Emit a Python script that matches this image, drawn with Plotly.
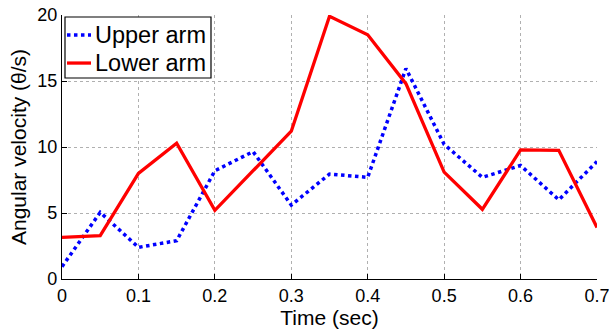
import plotly.graph_objects as go

time = [0, 0.05, 0.1, 0.15, 0.2, 0.25, 0.3, 0.35, 0.4, 0.45, 0.5, 0.55, 0.6, 0.65, 0.7]
upper_arm = [0.93, 5.05, 2.4, 2.9, 8.2, 9.65, 5.6, 7.95, 7.7, 15.95, 10.2, 7.7, 8.6, 6.0, 8.9]
lower_arm = [3.15, 3.28, 8.0, 10.28, 5.2, 8.2, 11.2, 19.9, 18.5, 14.8, 8.1, 5.28, 9.78, 9.75, 3.9]

x_ticks = [0, 0.1, 0.2, 0.3, 0.4, 0.5, 0.6, 0.7]
x_ticktext = ["0", "0.1", "0.2", "0.3", "0.4", "0.5", "0.6", "0.7"]
y_ticks = [0, 5, 10, 15, 20]
series_names = ["Upper arm", "Lower arm"]
series_colors = ["#0000ff", "#ff0000"]
series_dash = ["dot", "solid"]

font = "Liberation Sans, Arial, sans-serif"

fig = go.Figure()
fig.add_trace(go.Scatter(x=time, y=upper_arm, mode="lines", name=series_names[0],
                         line=dict(color=series_colors[0], width=3.5, dash=series_dash[0])))
fig.add_trace(go.Scatter(x=time, y=lower_arm, mode="lines", name=series_names[1],
                         line=dict(color=series_colors[1], width=3.3, dash=series_dash[1])))

# Legend drawn as a compact box (MATLAB style)
fig.add_shape(type="rect", xref="paper", yref="paper",
              x0=0.0056, x1=0.2785, y0=0.7614, y1=0.9924,
              line=dict(color="black", width=1.2), fillcolor="white", layer="above")
legend_rows_y = [0.9242, 0.818]
for name, color, dash, yy, w in zip(series_names, series_colors, series_dash, legend_rows_y, [3.5, 3.3]):
    fig.add_shape(type="line", xref="paper", yref="paper",
                  x0=0.0093, x1=0.0542, y0=yy, y1=yy,
                  line=dict(color=color, width=w, dash=dash), layer="above")
    fig.add_annotation(text=name, xref="paper", yref="paper", x=0.0575, y=yy,
                       xanchor="left", yanchor="middle", showarrow=False,
                       font=dict(size=23.5, family=font, color="black"))

fig.update_layout(
    width=609, height=335,
    margin=dict(l=62, r=12, t=15, b=56),
    paper_bgcolor="white", plot_bgcolor="white",
    font=dict(family=font, size=18, color="black"),
    showlegend=False,
)
fig.update_xaxes(range=[0, 0.7], tickvals=x_ticks, ticktext=x_ticktext,
                 showline=True, linecolor="black", linewidth=1.3,
                 ticks="inside", ticklen=5, tickcolor="black",
                 showgrid=True, gridcolor="#b0b0b0", griddash="dot", gridwidth=1,
                 zeroline=False, ticklabeloverflow="allow", automargin=False,
                 title=dict(text="Time (sec)", standoff=4, font=dict(size=21)),
                 tickfont=dict(size=18))
fig.update_yaxes(range=[0, 20], tickvals=y_ticks,
                 showline=True, linecolor="black", linewidth=1.3,
                 ticks="inside", ticklen=5, tickcolor="black",
                 showgrid=True, gridcolor="#b0b0b0", griddash="dot", gridwidth=1,
                 zeroline=False, automargin=False,
                 title=dict(text="Angular velocity (θ/s)", standoff=4, font=dict(size=21)),
                 tickfont=dict(size=18))

fig.write_html("out.html")
